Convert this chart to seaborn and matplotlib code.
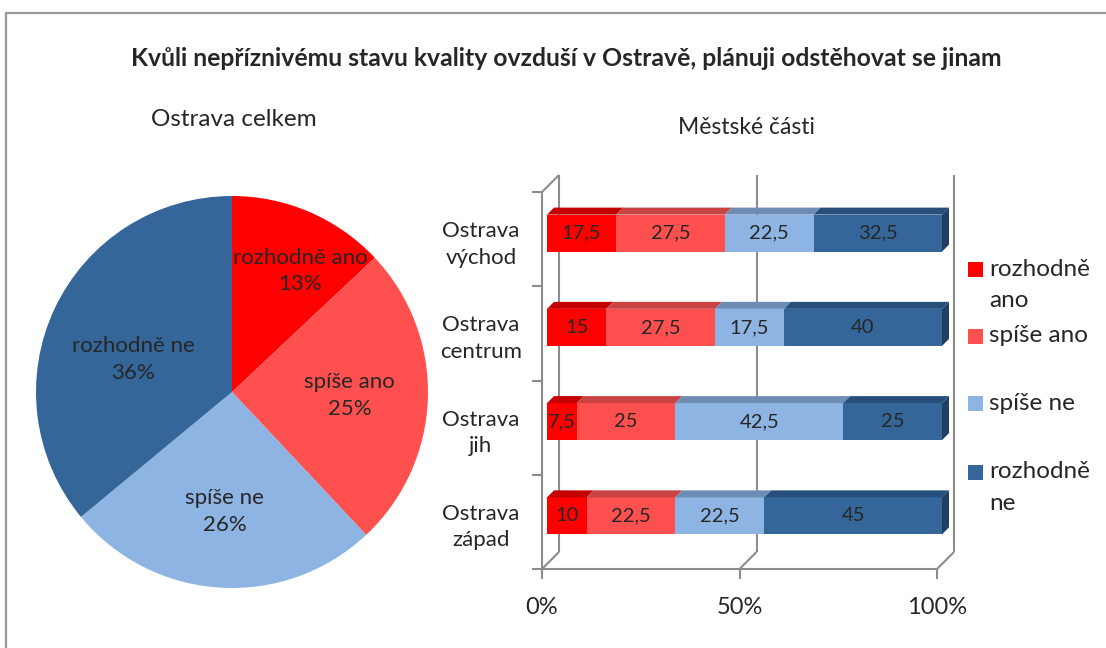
import numpy as np
import pandas as pd
import matplotlib
matplotlib.use("Agg")
import matplotlib.pyplot as plt
import seaborn as sns
from matplotlib.patches import Polygon, Rectangle
from matplotlib.lines import Line2D
from matplotlib.transforms import offset_copy

# ---------------- data ----------------
title = "Kvůli nepříznivému stavu kvality ovzduší v Ostravě, plánuji odstěhovat se jinam"
pie_title = "Ostrava celkem"
bar_title = "Městské části"
answers = ["rozhodně ano", "spíše ano", "spíše ne", "rozhodně ne"]
legend_labels = ["rozhodně\nano", "spíše ano", "spíše ne", "rozhodně\nne"]
pie_values = [13, 25, 26, 36]
districts = ["Ostrava\nvýchod", "Ostrava\ncentrum", "Ostrava\njih", "Ostrava\nzápad"]
rozhodne_ano = [17.5, 15, 7.5, 10]
spise_ano = [27.5, 27.5, 25, 22.5]
spise_ne = [22.5, 17.5, 42.5, 22.5]
rozhodne_ne = [32.5, 40, 25, 45]
x_ticks = [0, 50, 100]
x_tick_labels = ["0%", "50%", "100%"]

colors = ["#FF0000", "#FF5050", "#8DB4E2", "#346699"]
top_colors = ["#C40000", "#C94343", "#6E8DB4", "#264F7B"]
side_color = "#223F63"
axis_color = "#8C8C8C"

# ---------------- setup ----------------
sns.set_theme(style="white")
plt.rcParams["font.family"] = ["Lato", "DejaVu Sans"]

W, H = 1106, 648
fig = plt.figure(figsize=(W / 100, H / 100), dpi=100)
fig.patch.set_facecolor("white")


def fx(px):
    return px / W


def fy(py):
    return 1 - py / H


# outer frame (top and left visible)
fig.add_artist(Line2D([fx(6), 1], [fy(12.5), fy(12.5)], color="#9A9A9A", lw=1.6))
fig.add_artist(Line2D([fx(6), fx(6)], [fy(12.5), 0], color="#9A9A9A", lw=1.6))

fig.text(fx(566), fy(58), title, ha="center", va="center", fontsize=17.8, weight="bold")
fig.text(fx(234), fy(120), pie_title, ha="center", va="center", fontsize=17.5)
fig.text(fx(746), fy(127), bar_title, ha="center", va="center", fontsize=16.5)

# ---------------- pie ----------------
ax1 = fig.add_axes([fx(36), fy(588), 392 / W, 392 / H])
wedges, _ = ax1.pie(pie_values, colors=colors, startangle=90, counterclock=False,
                    radius=1, wedgeprops=dict(linewidth=0))
ax1.set_xlim(-1, 1)
ax1.set_ylim(-1, 1)
ax1.set_aspect("equal")
ax1.axis("off")
label_r = [0.71, 0.60, 0.61, 0.53]
label_da = [-6, 0, 0, 7]
for w, lab, v, r, da in zip(wedges, answers, pie_values, label_r, label_da):
    ang = np.deg2rad((w.theta1 + w.theta2) / 2 + da)
    ax1.text(r * np.cos(ang), r * np.sin(ang), f"{lab}\n{v}%", ha="center", va="center",
             fontsize=16, linespacing=1.4)

# ---------------- bars ----------------
ax2 = fig.add_axes([fx(542), fy(569), 395 / W, 377 / H])
series = [rozhodne_ano, spise_ano, spise_ne, rozhodne_ne]
arr = np.array(series, dtype=float)
cum = np.cumsum(arr, axis=0)
left = cum - arr
bar_w = 0.393

for k in range(3, -1, -1):
    df = pd.DataFrame({"district": districts, "value": cum[k]})
    sns.barplot(data=df, x="value", y="district", orient="h", color=colors[k],
                saturation=1, width=bar_w, ax=ax2, linewidth=0)

ax2.set_xlim(0, 100)
ax2.set_ylim(3.5, -0.5)
ax2.patch.set_alpha(0)
for s in ax2.spines.values():
    s.set_visible(False)
ax2.grid(False)

kx = 100 / 395
ky = 4 / 377
bar_tr = offset_copy(ax2.transData, fig=fig, x=5, y=6, units="dots")
for p in ax2.patches:
    p.set_transform(bar_tr)
    p.set_clip_on(False)

# walls / floor lines
wd = 17
lkw = dict(color=axis_color, lw=1.5, clip_on=False, zorder=0.5, solid_capstyle="butt")
for x in x_ticks:
    ax2.plot([x + wd * kx, x + wd * kx], [3.5 - wd * ky, -0.5 - wd * ky], **lkw)
    ax2.plot([x, x + wd * kx], [3.5, 3.5 - wd * ky], **lkw)
ax2.plot([0, 100], [3.5, 3.5], **lkw)
ax2.plot([0, 0], [3.5, -0.5], **lkw)
ax2.plot([0, wd * kx], [-0.5, -0.5 - wd * ky], **lkw)

# 3D faces
d = 7
dx, dy = d * kx, d * ky
for i in range(len(districts)):
    ytop = i - bar_w / 2
    ybot = i + bar_w / 2
    for k in range(4):
        l, r = left[k, i], cum[k, i]
        ax2.add_patch(Polygon([(l, ytop), (r, ytop), (r + dx, ytop - dy), (l + dx, ytop - dy)],
                              closed=True, facecolor=top_colors[k], edgecolor="none",
                              transform=bar_tr, clip_on=False, zorder=2))
        val = arr[k, i]
        ax2.text(l + val / 2, i, f"{val:g}".replace(".", ","), ha="center", va="center",
                 fontsize=14.5, transform=bar_tr, zorder=3)
    r = cum[3, i]
    ax2.add_patch(Polygon([(r, ytop), (r + dx, ytop - dy), (r + dx, ybot - dy), (r, ybot)],
                          closed=True, facecolor=side_color, edgecolor="none",
                          transform=bar_tr, clip_on=False, zorder=2))

ax2.set_xticks(x_ticks, x_tick_labels)
ax2.set_xlabel("")
ax2.set_ylabel("")
ax2.tick_params(axis="x", bottom=True, length=7, width=1.5, color=axis_color,
                labelsize=17, pad=13)
ax2.set_yticks(range(len(districts)), districts)
ax2.set_yticks(np.arange(-0.5, len(districts), 1), minor=True)
ax2.tick_params(axis="y", which="minor", left=True, length=7, width=1.5, color=axis_color)
ax2.tick_params(axis="y", which="major", left=True, length=0, labelsize=16, pad=44)
for t in ax2.get_yticklabels():
    t.set_ha("center")
    t.set_multialignment("center")
    t.set_linespacing(1.4)

# ---------------- legend ----------------
legend_y = [269, 336, 403, 472]
for lab, col, y in zip(legend_labels, colors, legend_y):
    fig.add_artist(Rectangle((fx(968), fy(y + 7.5)), 15 / W, 15 / H, facecolor=col,
                             edgecolor="none", transform=fig.transFigure))
    for j, line in enumerate(lab.split("\n")):
        fig.text(fx(989), fy(y + 32 * j), line, ha="left", va="center", fontsize=17.5)

fig.savefig("out.png", dpi=100, facecolor="white")
